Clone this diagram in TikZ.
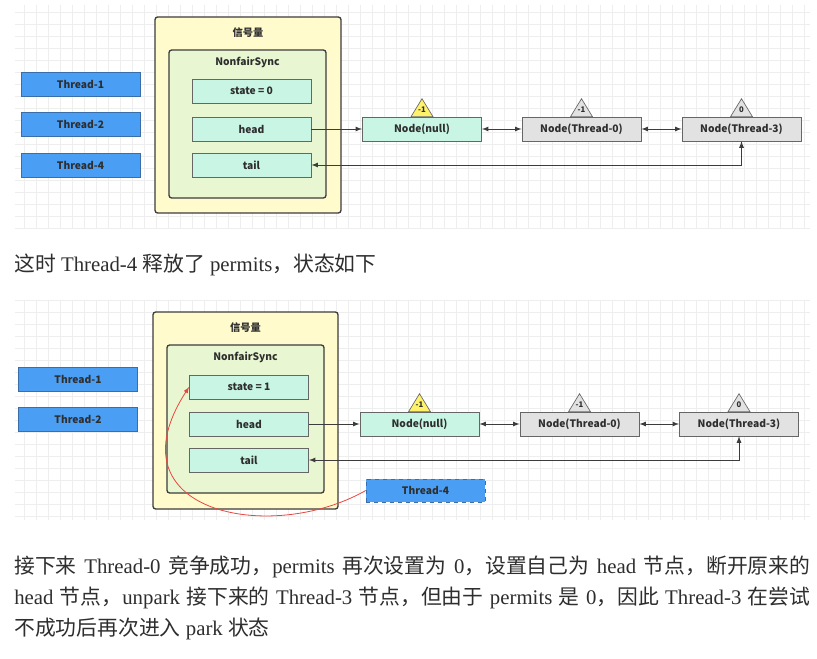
\documentclass[tikz,border=0pt]{standalone}
\usepackage{fontspec}
\setmainfont{Liberation Serif}
\newfontfamily\cjk{Noto Sans CJK SC}
\usepackage{tikz}
\usetikzlibrary{arrows,shapes,positioning}

\definecolor{threadblue}{HTML}{4A9FF5}
\definecolor{threadedge}{HTML}{3A6EA8}
\definecolor{semayellow}{HTML}{FFFBCC}
\definecolor{syncgreen}{HTML}{E8F7D2}
\definecolor{mint}{HTML}{C9F5E4}
\definecolor{nodegray}{HTML}{E2E2E2}
\definecolor{triyellow}{HTML}{FFF26B}
\definecolor{boxedge}{HTML}{3C3C3C}
\definecolor{gridgray}{HTML}{EEEEEE}
\definecolor{curvered}{HTML}{E8463E}
\definecolor{textgray}{HTML}{2E2E2E}

\XeTeXlinebreaklocale "zh"
\XeTeXlinebreakskip=0pt plus 1.5pt

\tikzset{
  lbl/.style={font=\cjk\bfseries\fontsize{7.7}{9}\selectfont, text=textgray},
  thread/.style={lbl, draw=threadedge, fill=threadblue, minimum width=89.25pt, minimum height=18pt, inner sep=0pt},
  field/.style={lbl, draw=gray!80!black, fill=mint, minimum width=89.5pt, minimum height=18pt, inner sep=0pt},
  qnode/.style={field, fill=nodegray},
  semabox/.style={draw=boxedge, fill=semayellow, rounded corners=2pt, line width=1pt, inner sep=0pt},
  syncbox/.style={draw=boxedge, fill=syncgreen, rounded corners=2pt, line width=1pt, inner sep=0pt},
  tri/.style={draw=gray!80!black, fill=nodegray, line width=0.5pt},
  trilbl/.style={font=\cjk\bfseries\fontsize{5.8}{7}\selectfont, text=textgray, inner sep=0pt},
  link/.style={draw=boxedge, line width=0.7pt, >=latex},
  gridline/.style={draw=gridgray, line width=0.4pt},
  para/.style={font=\fontsize{15.6}{23}\selectfont, text=textgray, anchor=west, inner sep=0pt},
}

\begin{document}
\begin{tikzpicture}[x=0.75pt, y=-0.75pt]
  \fill[white] (0,0) rectangle (817,659);
  \useasboundingbox (0,0) rectangle (817,659);

  % grids
  \draw[gridline, step=9pt] (15,5) grid (810,228);
  \draw[gridline, step=9pt] (15,300) grid (810,520);

  % ---- before ----
  \node[thread] (t1a) at (80.5,84) {Thread-1};
  \node[thread] (t2a) at (80.5,124) {Thread-2};
  \node[thread] (t4a) at (80.5,165) {Thread-4};

  \node[semabox, minimum width=139.5pt, minimum height=147pt] (semaa) at (248,115) {};
  \node[lbl] (semata) at (248,33) {信号量};
  \node[syncbox, minimum width=117.75pt, minimum height=111pt] (synca) at (247.5,124) {};
  \node[lbl] (syncta) at (247.5,62) {NonfairSync};
  \node[field] (statea) at (251.5,91) {state = 0};
  \node[field] (heada) at (251.5,129) {head};
  \node[field] (taila) at (251.5,165) {tail};

  \node[field] (nulla) at (422,129) {Node(null)};
  \node[qnode] (th0a) at (581.5,129) {Node(Thread-0)};
  \node[qnode] (th3a) at (741.5,129) {Node(Thread-3)};

  \draw[tri, fill=triyellow] ([xshift=-8.25pt]nulla.north) -- ([yshift=13.5pt]nulla.north) -- ([xshift=8.25pt]nulla.north) -- cycle;
  \node[trilbl] (wa1) at ([yshift=5pt]nulla.north) {-1};
  \draw[tri] ([xshift=-8.25pt]th0a.north) -- ([yshift=13.5pt]th0a.north) -- ([xshift=8.25pt]th0a.north) -- cycle;
  \node[trilbl] (wa2) at ([yshift=5pt]th0a.north) {-1};
  \draw[tri] ([xshift=-8.25pt]th3a.north) -- ([yshift=13.5pt]th3a.north) -- ([xshift=8.25pt]th3a.north) -- cycle;
  \node[trilbl] (wa3) at ([yshift=5pt]th3a.north) {0};

  \draw[link, ->] (heada) -- (nulla);
  \draw[link, <->] (nulla) -- (th0a);
  \draw[link, <->] (th0a) -- (th3a);
  \draw[link, <->] (taila.east) -| (th3a.south);

  % text
  \node[para] (saya) at (14,265) {{\cjk 这时} Thread-4 {\cjk 释放了} permits{\cjk ，状态如下}};

  % ---- after ----
  \node[thread] (t1b) at (78,379) {Thread-1};
  \node[thread] (t2b) at (78,419) {Thread-2};

  \node[semabox, minimum width=138.75pt, minimum height=147.75pt] (semab) at (245.5,410.5) {};
  \node[lbl] (sematb) at (245.5,328) {信号量};
  \node[syncbox, minimum width=117.75pt, minimum height=111pt] (syncb) at (245.5,419) {};
  \node[lbl] (synctb) at (245.5,357) {NonfairSync};
  \node[field] (stateb) at (249,387) {state = 1};
  \node[field] (headb) at (249,424) {head};
  \node[field] (tailb) at (249,460) {tail};

  \node[field] (nullb) at (419.5,424) {Node(null)};
  \node[qnode] (th0b) at (579.5,424) {Node(Thread-0)};
  \node[qnode] (th3b) at (739,424) {Node(Thread-3)};

  \draw[tri, fill=triyellow] ([xshift=-8.25pt]nullb.north) -- ([yshift=13.5pt]nullb.north) -- ([xshift=8.25pt]nullb.north) -- cycle;
  \node[trilbl] (wb1) at ([yshift=5pt]nullb.north) {-1};
  \draw[tri] ([xshift=-8.25pt]th0b.north) -- ([yshift=13.5pt]th0b.north) -- ([xshift=8.25pt]th0b.north) -- cycle;
  \node[trilbl] (wb2) at ([yshift=5pt]th0b.north) {-1};
  \draw[tri] ([xshift=-8.25pt]th3b.north) -- ([yshift=13.5pt]th3b.north) -- ([xshift=8.25pt]th3b.north) -- cycle;
  \node[trilbl] (wb3) at ([yshift=5pt]th3b.north) {0};

  \draw[link, ->] (headb) -- (nullb);
  \draw[link, <->] (nullb) -- (th0b);
  \draw[link, <->] (th0b) -- (th3b);
  \draw[link, <->] (tailb.east) -| (th3b.south);

  \node[thread, dashed, minimum height=17.25pt] (t4b) at (425.5,490.5) {Thread-4};
  \draw[curvered, line width=0.6pt, -latex] (t4b.west) .. controls (270,545) and (108,512) .. (stateb.west);

  % text
  \node[para] (sayb1) at (14,567) {\hbox to 597pt{{\cjk 接下来} Thread-0 {\cjk 竞争成功，}permits {\cjk 再次设置为} 0{\cjk ，设置自己为} head {\cjk 节点，断开原来的}}};
  \node[para] (sayb2) at (14,598) {\hbox to 597pt{head {\cjk 节点，}unpark {\cjk 接下来的} Thread-3 {\cjk 节点，但由于} permits {\cjk 是} 0{\cjk ，因此} Thread-3 {\cjk 在尝试}}};
  \node[para] (sayb3) at (14,629) {{\cjk 不成功后再次进入} park {\cjk 状态}};
\end{tikzpicture}
\end{document}
